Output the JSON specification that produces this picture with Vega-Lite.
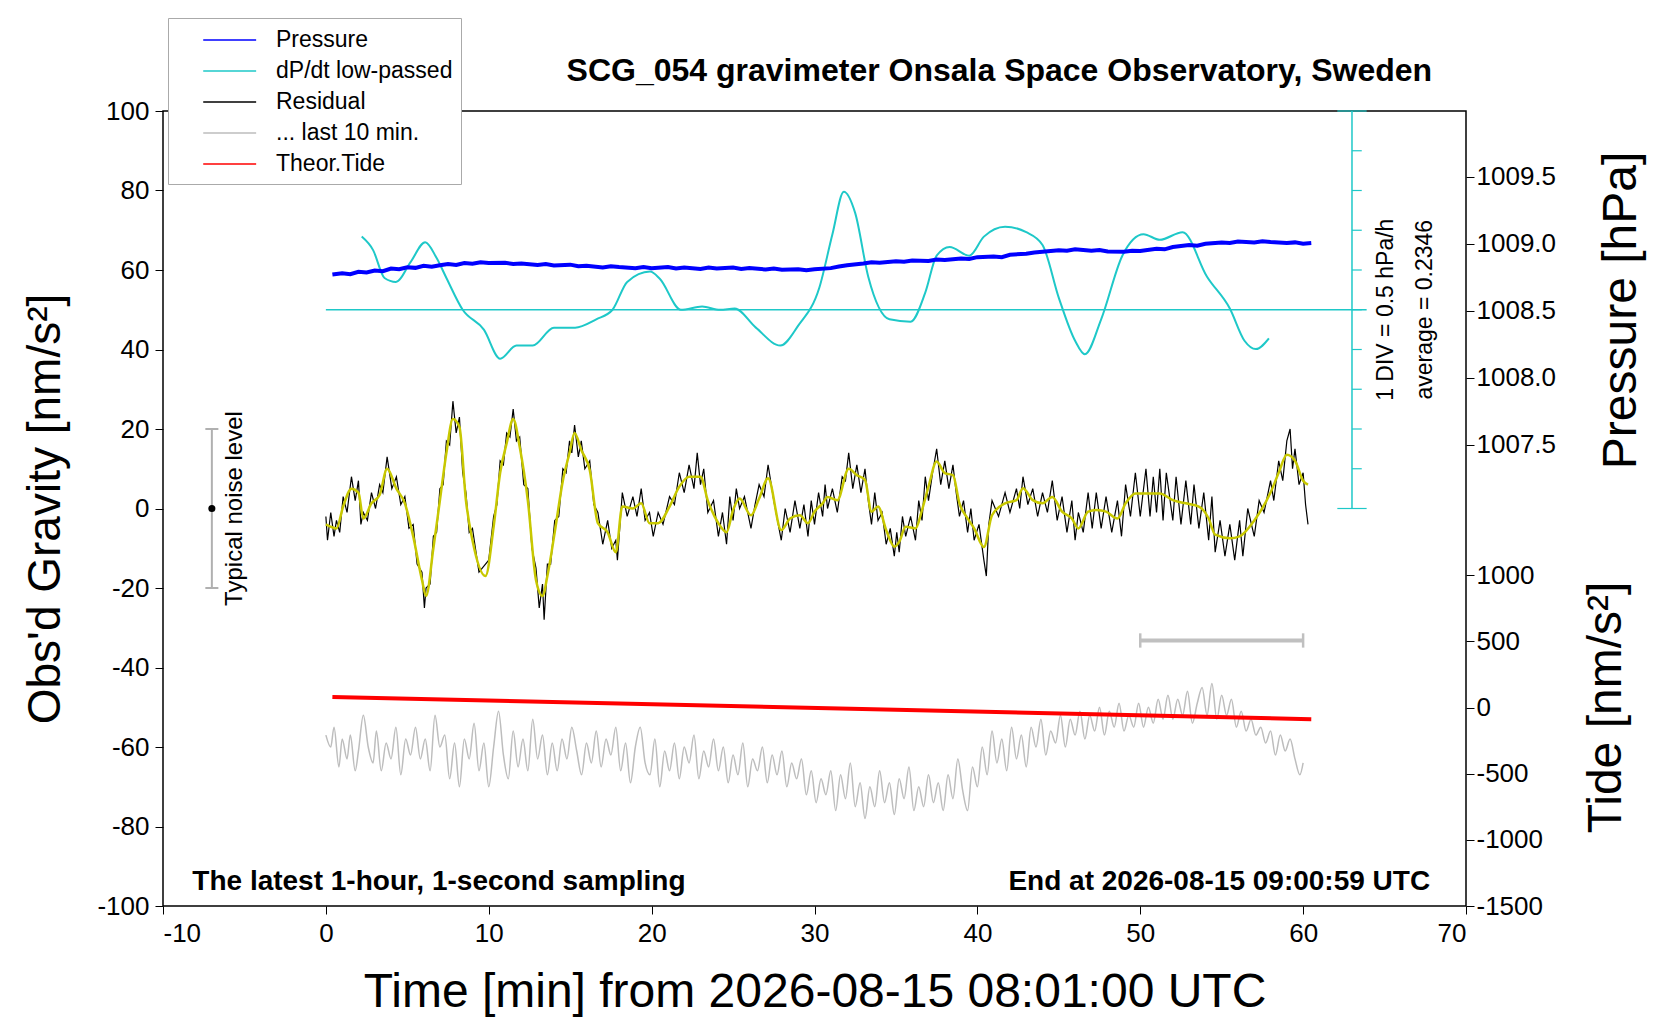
{
  "$schema": "https://vega.github.io/schema/vega-lite/v6.json",
  "width": 1303,
  "height": 795,
  "autosize": "none",
  "padding": {"left": 163, "top": 111, "right": 194, "bottom": 114},
  "datasets": {
    "res": [
      {"t":0,"g":-2},{"t":0.1,"g":-8},{"t":0.3,"g":-1},{"t":0.5,"g":-7},{"t":0.65,"g":-3},{"t":0.85,"g":-6},{"t":1.06,"g":3},{"t":1.3,"g":-1},{"t":1.57,"g":8},{"t":1.8,"g":2},{"t":2,"g":7},{"t":2.15,"g":-4},{"t":2.3,"g":-1},{"t":2.55,"g":-3},{"t":2.8,"g":4},{"t":3.05,"g":0},{"t":3.3,"g":6},{"t":3.5,"g":4},{"t":3.76,"g":13},{"t":4.05,"g":5},{"t":4.33,"g":8},{"t":4.6,"g":1},{"t":4.85,"g":3},{"t":5.1,"g":-5},{"t":5.36,"g":-4},{"t":5.6,"g":-14},{"t":5.9,"g":-16},{"t":6.05,"g":-25},{"t":6.15,"g":-20},{"t":6.4,"g":-19},{"t":6.6,"g":-7},{"t":6.8,"g":-6},{"t":7,"g":5},{"t":7.2,"g":6},{"t":7.4,"g":17},{"t":7.6,"g":16},{"t":7.8,"g":27},{"t":8,"g":19},{"t":8.2,"g":23},{"t":8.4,"g":9},{"t":8.6,"g":4},{"t":8.8,"g":-6},{"t":9,"g":-5},{"t":9.4,"g":-16},{"t":9.8,"g":-14},{"t":10,"g":-13},{"t":10.3,"g":-2},{"t":10.5,"g":1},{"t":10.7,"g":12},{"t":10.9,"g":11},{"t":11.1,"g":19},{"t":11.3,"g":18},{"t":11.5,"g":25},{"t":11.7,"g":17},{"t":11.9,"g":18},{"t":12.15,"g":6},{"t":12.4,"g":5},{"t":12.65,"g":-10},{"t":12.9,"g":-15},{"t":13.1,"g":-25},{"t":13.3,"g":-19},{"t":13.4,"g":-28},{"t":13.6,"g":-14},{"t":13.8,"g":-14},{"t":14.05,"g":-3},{"t":14.3,"g":-2},{"t":14.55,"g":10},{"t":14.75,"g":9},{"t":14.96,"g":17},{"t":15.1,"g":14},{"t":15.27,"g":21},{"t":15.5,"g":13},{"t":15.68,"g":17},{"t":15.9,"g":10},{"t":16.2,"g":12},{"t":16.45,"g":1},{"t":16.7,"g":-1},{"t":17,"g":-9},{"t":17.3,"g":-3},{"t":17.55,"g":-10},{"t":17.8,"g":-8},{"t":17.9,"g":-13},{"t":18.2,"g":4},{"t":18.5,"g":-2},{"t":18.85,"g":3},{"t":19.1,"g":-2},{"t":19.36,"g":5},{"t":19.6,"g":-3},{"t":19.87,"g":-1},{"t":20.1,"g":-7},{"t":20.4,"g":-1},{"t":20.7,"g":-4},{"t":21.1,"g":3},{"t":21.4,"g":1},{"t":21.7,"g":9},{"t":22,"g":4},{"t":22.3,"g":11},{"t":22.6,"g":5},{"t":22.8,"g":14},{"t":23,"g":6},{"t":23.2,"g":10},{"t":23.45,"g":-1},{"t":23.8,"g":2},{"t":24.1,"g":-7},{"t":24.35,"g":-1},{"t":24.6,"g":-9},{"t":24.8,"g":3},{"t":25,"g":-3},{"t":25.2,"g":5},{"t":25.4,"g":0},{"t":25.7,"g":3},{"t":26.1,"g":-5},{"t":26.35,"g":1},{"t":26.6,"g":6},{"t":26.9,"g":3},{"t":27.15,"g":11},{"t":27.5,"g":2},{"t":27.96,"g":-8},{"t":28.2,"g":0},{"t":28.5,"g":-6},{"t":28.8,"g":2},{"t":29.1,"g":-5},{"t":29.35,"g":1},{"t":29.6,"g":-7},{"t":29.8,"g":2},{"t":30,"g":-4},{"t":30.25,"g":4},{"t":30.5,"g":-2},{"t":30.65,"g":6},{"t":30.8,"g":0},{"t":31.1,"g":5},{"t":31.4,"g":-1},{"t":31.7,"g":8},{"t":31.9,"g":7},{"t":32.1,"g":14},{"t":32.35,"g":5},{"t":32.6,"g":11},{"t":32.85,"g":4},{"t":33.1,"g":10},{"t":33.3,"g":2},{"t":33.5,"g":-4},{"t":33.7,"g":4},{"t":33.9,"g":-3},{"t":34.15,"g":-1},{"t":34.4,"g":-9},{"t":34.65,"g":-5},{"t":34.9,"g":-12},{"t":35.05,"g":-6},{"t":35.2,"g":-11},{"t":35.4,"g":-2},{"t":35.6,"g":-7},{"t":35.9,"g":-2},{"t":36.2,"g":-8},{"t":36.4,"g":2},{"t":36.6,"g":-3},{"t":36.8,"g":8},{"t":37,"g":2},{"t":37.25,"g":9},{"t":37.5,"g":15},{"t":37.75,"g":6},{"t":38,"g":12},{"t":38.25,"g":5},{"t":38.5,"g":11},{"t":38.7,"g":4},{"t":38.9,"g":-2},{"t":39.15,"g":2},{"t":39.4,"g":-6},{"t":39.6,"g":0},{"t":39.8,"g":-8},{"t":40.1,"g":-4},{"t":40.4,"g":-13},{"t":40.55,"g":-17},{"t":40.7,"g":-4},{"t":40.9,"g":2},{"t":41.3,"g":-2},{"t":41.7,"g":4},{"t":42,"g":-1},{"t":42.4,"g":5},{"t":42.6,"g":0},{"t":42.8,"g":8},{"t":43.1,"g":1},{"t":43.4,"g":5},{"t":43.7,"g":-2},{"t":44,"g":4},{"t":44.3,"g":-1},{"t":44.6,"g":7},{"t":44.9,"g":-3},{"t":45.2,"g":3},{"t":45.5,"g":-6},{"t":45.8,"g":2},{"t":46,"g":-8},{"t":46.2,"g":-1},{"t":46.5,"g":-6},{"t":46.8,"g":4},{"t":47.05,"g":-5},{"t":47.3,"g":4},{"t":47.6,"g":-5},{"t":47.9,"g":3},{"t":48.25,"g":-6},{"t":48.6,"g":2},{"t":48.85,"g":-7},{"t":49.1,"g":6},{"t":49.4,"g":-2},{"t":49.7,"g":9},{"t":50,"g":-2},{"t":50.35,"g":10},{"t":50.6,"g":-2},{"t":50.8,"g":8},{"t":51,"g":-1},{"t":51.2,"g":10},{"t":51.4,"g":-3},{"t":51.6,"g":9},{"t":52,"g":-3},{"t":52.2,"g":8},{"t":52.5,"g":-4},{"t":52.8,"g":7},{"t":53.1,"g":-4},{"t":53.3,"g":6},{"t":53.6,"g":-5},{"t":53.9,"g":4},{"t":54.2,"g":-8},{"t":54.4,"g":3},{"t":54.6,"g":-11},{"t":54.9,"g":-3},{"t":55.2,"g":-12},{"t":55.5,"g":-4},{"t":55.8,"g":-13},{"t":56.1,"g":-3},{"t":56.3,"g":-12},{"t":56.6,"g":0},{"t":57,"g":-7},{"t":57.3,"g":2},{"t":57.6,"g":-1},{"t":58,"g":7},{"t":58.2,"g":2},{"t":58.5,"g":12},{"t":58.75,"g":7},{"t":59,"g":17},{"t":59.2,"g":20},{"t":59.35,"g":10},{"t":59.5,"g":15},{"t":59.75,"g":6},{"t":60,"g":9},{"t":60.15,"g":1},{"t":60.3,"g":-4}
    ],
    "smo": [
      {"t":0,"g":-4},{"t":0.65,"g":-5},{"t":1.06,"g":0.5},{"t":1.57,"g":5},{"t":2,"g":4},{"t":2.3,"g":-2.5},{"t":2.8,"g":1.3},{"t":3.3,"g":3.4},{"t":3.76,"g":10},{"t":4.33,"g":5},{"t":4.85,"g":1.3},{"t":5.36,"g":-7},{"t":5.9,"g":-18},{"t":6.15,"g":-22},{"t":6.6,"g":-10},{"t":7,"g":2},{"t":7.4,"g":14},{"t":7.8,"g":22.5},{"t":8.2,"g":20.5},{"t":8.6,"g":2},{"t":9,"g":-8},{"t":9.8,"g":-17},{"t":10.3,"g":-4.6},{"t":10.7,"g":9},{"t":11.1,"g":16.4},{"t":11.5,"g":22.5},{"t":11.9,"g":15.5},{"t":12.4,"g":2},{"t":12.9,"g":-18},{"t":13.3,"g":-22},{"t":13.6,"g":-17},{"t":14.05,"g":-6},{"t":14.55,"g":7},{"t":14.96,"g":14},{"t":15.27,"g":19},{"t":15.68,"g":14.7},{"t":16.2,"g":9.7},{"t":16.7,"g":-3.7},{"t":17.3,"g":-6},{"t":17.8,"g":-11},{"t":18.2,"g":0.5},{"t":18.85,"g":0},{"t":19.36,"g":1.3},{"t":19.87,"g":-3.7},{"t":20.4,"g":-3.7},{"t":21.1,"g":0.5},{"t":21.7,"g":5.5},{"t":22.3,"g":8},{"t":23,"g":8},{"t":23.45,"g":2},{"t":24.1,"g":-3.7},{"t":24.6,"g":-6},{"t":25,"g":-0.4},{"t":25.4,"g":2.5},{"t":26.1,"g":-1.7},{"t":26.6,"g":2.5},{"t":27.15,"g":7.6},{"t":27.96,"g":-5.4},{"t":28.5,"g":-2.5},{"t":29.1,"g":-1.7},{"t":29.6,"g":-3.7},{"t":30,"g":-0.8},{"t":30.5,"g":1.3},{"t":30.8,"g":2.9},{"t":31.4,"g":2.1},{"t":32.1,"g":10},{"t":32.6,"g":8.4},{"t":33.1,"g":7.2},{"t":33.5,"g":-0.8},{"t":33.9,"g":0.5},{"t":34.4,"g":-5.4},{"t":34.9,"g":-9.6},{"t":35.2,"g":-8.4},{"t":35.6,"g":-4.6},{"t":36.2,"g":-5},{"t":36.6,"g":-0.4},{"t":37,"g":5.5},{"t":37.5,"g":11.8},{"t":38,"g":8.9},{"t":38.5,"g":8.4},{"t":38.9,"g":1.3},{"t":39.4,"g":-2.5},{"t":39.8,"g":-5},{"t":40.4,"g":-9.7},{"t":40.9,"g":-1.7},{"t":41.7,"g":1.3},{"t":42.4,"g":2.1},{"t":42.8,"g":5.1},{"t":43.4,"g":2.1},{"t":44,"g":1.3},{"t":44.6,"g":2.9},{"t":45.2,"g":-0.8},{"t":45.8,"g":-2.5},{"t":46.2,"g":-5},{"t":46.8,"g":-0.8},{"t":47.3,"g":-0.4},{"t":47.9,"g":-0.8},{"t":48.6,"g":-2.5},{"t":49.1,"g":1.3},{"t":49.7,"g":3.8},{"t":50.35,"g":3.8},{"t":51.2,"g":3.8},{"t":52,"g":2.1},{"t":52.8,"g":1.3},{"t":53.6,"g":0.5},{"t":54.2,"g":-2.5},{"t":54.6,"g":-6.6},{"t":55.5,"g":-7.5},{"t":56.1,"g":-7},{"t":57,"g":-3},{"t":58,"g":4},{"t":58.5,"g":9},{"t":59,"g":13.5},{"t":59.5,"g":12},{"t":60,"g":7},{"t":60.3,"g":6}
    ],
    "gry": [
      {"t":0,"g":-57},{"t":0.3,"g":-60},{"t":0.5,"g":-55},{"t":0.8,"g":-65},{"t":1,"g":-58},{"t":1.3,"g":-63},{"t":1.5,"g":-57},{"t":1.8,"g":-66},{"t":2,"g":-61},{"t":2.3,"g":-52},{"t":2.6,"g":-60},{"t":2.9,"g":-64},{"t":3.1,"g":-56},{"t":3.4,"g":-66},{"t":3.7,"g":-59},{"t":4,"g":-63},{"t":4.3,"g":-55},{"t":4.6,"g":-67},{"t":4.9,"g":-58},{"t":5.2,"g":-62},{"t":5.5,"g":-55},{"t":5.8,"g":-63},{"t":6.1,"g":-58},{"t":6.4,"g":-66},{"t":6.7,"g":-52},{"t":7,"g":-60},{"t":7.3,"g":-57},{"t":7.6,"g":-68},{"t":7.9,"g":-59},{"t":8.2,"g":-70},{"t":8.5,"g":-58},{"t":8.8,"g":-63},{"t":9.1,"g":-54},{"t":9.4,"g":-66},{"t":9.7,"g":-59},{"t":10,"g":-70},{"t":10.3,"g":-60},{"t":10.6,"g":-51},{"t":10.9,"g":-62},{"t":11.2,"g":-68},{"t":11.5,"g":-56},{"t":11.8,"g":-65},{"t":12.1,"g":-58},{"t":12.4,"g":-66},{"t":12.7,"g":-53},{"t":13,"g":-63},{"t":13.3,"g":-57},{"t":13.6,"g":-67},{"t":13.9,"g":-59},{"t":14.2,"g":-66},{"t":14.5,"g":-58},{"t":14.8,"g":-63},{"t":15.1,"g":-55},{"t":15.4,"g":-61},{"t":15.7,"g":-67},{"t":16,"g":-59},{"t":16.3,"g":-64},{"t":16.6,"g":-56},{"t":16.9,"g":-65},{"t":17.2,"g":-58},{"t":17.5,"g":-62},{"t":17.8,"g":-55},{"t":18.1,"g":-66},{"t":18.4,"g":-59},{"t":18.7,"g":-69},{"t":19,"g":-60},{"t":19.3,"g":-55},{"t":19.6,"g":-64},{"t":19.9,"g":-67},{"t":20.2,"g":-58},{"t":20.5,"g":-70},{"t":20.8,"g":-61},{"t":21.1,"g":-66},{"t":21.4,"g":-59},{"t":21.7,"g":-68},{"t":22,"g":-60},{"t":22.3,"g":-64},{"t":22.6,"g":-57},{"t":22.9,"g":-68},{"t":23.2,"g":-61},{"t":23.5,"g":-65},{"t":23.8,"g":-58},{"t":24.1,"g":-66},{"t":24.4,"g":-60},{"t":24.7,"g":-69},{"t":25,"g":-62},{"t":25.3,"g":-67},{"t":25.6,"g":-59},{"t":25.9,"g":-70},{"t":26.2,"g":-63},{"t":26.5,"g":-66},{"t":26.8,"g":-60},{"t":27.1,"g":-69},{"t":27.4,"g":-62},{"t":27.7,"g":-67},{"t":28,"g":-61},{"t":28.3,"g":-70},{"t":28.6,"g":-64},{"t":28.9,"g":-68},{"t":29.2,"g":-63},{"t":29.5,"g":-72},{"t":29.8,"g":-66},{"t":30.1,"g":-74},{"t":30.4,"g":-68},{"t":30.7,"g":-72},{"t":31,"g":-66},{"t":31.3,"g":-76},{"t":31.6,"g":-67},{"t":31.9,"g":-73},{"t":32.2,"g":-64},{"t":32.5,"g":-75},{"t":32.8,"g":-69},{"t":33.1,"g":-78},{"t":33.4,"g":-70},{"t":33.7,"g":-75},{"t":34,"g":-66},{"t":34.3,"g":-74},{"t":34.6,"g":-69},{"t":34.9,"g":-77},{"t":35.2,"g":-68},{"t":35.5,"g":-73},{"t":35.8,"g":-65},{"t":36.1,"g":-76},{"t":36.4,"g":-70},{"t":36.7,"g":-75},{"t":37,"g":-67},{"t":37.3,"g":-74},{"t":37.6,"g":-69},{"t":37.9,"g":-76},{"t":38.2,"g":-67},{"t":38.5,"g":-73},{"t":38.8,"g":-63},{"t":39.1,"g":-71},{"t":39.4,"g":-76},{"t":39.7,"g":-65},{"t":40,"g":-70},{"t":40.3,"g":-60},{"t":40.6,"g":-67},{"t":40.9,"g":-56},{"t":41.2,"g":-64},{"t":41.5,"g":-58},{"t":41.8,"g":-66},{"t":42.1,"g":-55},{"t":42.4,"g":-63},{"t":42.7,"g":-57},{"t":43,"g":-65},{"t":43.3,"g":-55},{"t":43.6,"g":-60},{"t":43.9,"g":-53},{"t":44.2,"g":-62},{"t":44.5,"g":-56},{"t":44.8,"g":-59},{"t":45.1,"g":-52},{"t":45.4,"g":-60},{"t":45.7,"g":-53},{"t":46,"g":-57},{"t":46.3,"g":-51},{"t":46.6,"g":-58},{"t":46.9,"g":-52},{"t":47.2,"g":-56},{"t":47.5,"g":-50},{"t":47.8,"g":-57},{"t":48.1,"g":-51},{"t":48.4,"g":-55},{"t":48.7,"g":-49},{"t":49,"g":-56},{"t":49.3,"g":-52},{"t":49.6,"g":-55},{"t":49.9,"g":-49},{"t":50.2,"g":-55},{"t":50.5,"g":-50},{"t":50.8,"g":-54},{"t":51.1,"g":-48},{"t":51.4,"g":-53},{"t":51.7,"g":-47},{"t":52,"g":-53},{"t":52.3,"g":-48},{"t":52.6,"g":-52},{"t":52.9,"g":-46},{"t":53.2,"g":-54},{"t":53.5,"g":-49},{"t":53.8,"g":-45},{"t":54.1,"g":-52},{"t":54.4,"g":-44},{"t":54.7,"g":-53},{"t":55,"g":-47},{"t":55.3,"g":-52},{"t":55.6,"g":-48},{"t":55.9,"g":-55},{"t":56.2,"g":-51},{"t":56.5,"g":-56},{"t":56.8,"g":-53},{"t":57.1,"g":-57},{"t":57.4,"g":-55},{"t":57.7,"g":-59},{"t":58,"g":-56},{"t":58.3,"g":-62},{"t":58.6,"g":-57},{"t":58.9,"g":-61},{"t":59.2,"g":-58},{"t":59.5,"g":-63},{"t":59.8,"g":-67},{"t":60,"g":-64}
    ],
    "prs": [
      {"t":0.4,"p":1008.77},{"t":1,"p":1008.78},{"t":1.5,"p":1008.772},{"t":2,"p":1008.79},{"t":2.5,"p":1008.786},{"t":3,"p":1008.8},{"t":3.5,"p":1008.795},{"t":4,"p":1008.815},{"t":4.5,"p":1008.81},{"t":5,"p":1008.825},{"t":5.5,"p":1008.82},{"t":6,"p":1008.835},{"t":6.5,"p":1008.828},{"t":7,"p":1008.84},{"t":7.5,"p":1008.848},{"t":8,"p":1008.842},{"t":8.5,"p":1008.856},{"t":9,"p":1008.85},{"t":9.5,"p":1008.862},{"t":10,"p":1008.856},{"t":11,"p":1008.858},{"t":11.5,"p":1008.849},{"t":12,"p":1008.853},{"t":13,"p":1008.842},{"t":13.5,"p":1008.848},{"t":14,"p":1008.838},{"t":15,"p":1008.844},{"t":15.5,"p":1008.832},{"t":16,"p":1008.836},{"t":17,"p":1008.822},{"t":17.5,"p":1008.832},{"t":18,"p":1008.826},{"t":19,"p":1008.818},{"t":19.5,"p":1008.826},{"t":20,"p":1008.818},{"t":21,"p":1008.826},{"t":21.5,"p":1008.815},{"t":22,"p":1008.822},{"t":23,"p":1008.812},{"t":23.5,"p":1008.822},{"t":24,"p":1008.816},{"t":25,"p":1008.822},{"t":25.5,"p":1008.812},{"t":26,"p":1008.818},{"t":27,"p":1008.808},{"t":27.5,"p":1008.815},{"t":28,"p":1008.806},{"t":29,"p":1008.81},{"t":29.5,"p":1008.803},{"t":30,"p":1008.81},{"t":31,"p":1008.818},{"t":31.5,"p":1008.83},{"t":32,"p":1008.84},{"t":33,"p":1008.852},{"t":33.5,"p":1008.862},{"t":34,"p":1008.858},{"t":35,"p":1008.87},{"t":35.5,"p":1008.865},{"t":36,"p":1008.874},{"t":37,"p":1008.872},{"t":37.5,"p":1008.882},{"t":38,"p":1008.878},{"t":39,"p":1008.89},{"t":39.5,"p":1008.886},{"t":40,"p":1008.9},{"t":41,"p":1008.905},{"t":41.5,"p":1008.9},{"t":42,"p":1008.918},{"t":43,"p":1008.925},{"t":43.5,"p":1008.935},{"t":44,"p":1008.94},{"t":45,"p":1008.952},{"t":45.5,"p":1008.948},{"t":46,"p":1008.958},{"t":47,"p":1008.948},{"t":47.5,"p":1008.953},{"t":48,"p":1008.942},{"t":49,"p":1008.94},{"t":49.5,"p":1008.948},{"t":50,"p":1008.945},{"t":51,"p":1008.962},{"t":51.5,"p":1008.958},{"t":52,"p":1008.975},{"t":53,"p":1008.99},{"t":53.5,"p":1008.985},{"t":54,"p":1009.0},{"t":55,"p":1009.01},{"t":55.5,"p":1009.005},{"t":56,"p":1009.016},{"t":57,"p":1009.01},{"t":57.5,"p":1009.018},{"t":58,"p":1009.012},{"t":59,"p":1009.006},{"t":59.5,"p":1009.01},{"t":60,"p":1009.0},{"t":60.5,"p":1009.005}
    ],
    "cyn": [
      {"t":2.2,"g":68.4},{"t":2.9,"g":65},{"t":3.6,"g":58},{"t":4.3,"g":57},{"t":5.2,"g":62},{"t":6.1,"g":67},{"t":6.8,"g":63},{"t":7.4,"g":58},{"t":8.4,"g":50},{"t":9.7,"g":45},{"t":10.7,"g":37.7},{"t":11.7,"g":41},{"t":12.7,"g":41},{"t":14,"g":45.5},{"t":15.3,"g":45.5},{"t":16.6,"g":47.6},{"t":17.6,"g":50},{"t":18.5,"g":57},{"t":19.9,"g":59.6},{"t":20.5,"g":57.8},{"t":21.8,"g":50},{"t":23.1,"g":50.8},{"t":24.2,"g":50},{"t":25.1,"g":50.3},{"t":26.4,"g":45.5},{"t":27.9,"g":41},{"t":29,"g":46},{"t":30.3,"g":55.6},{"t":31.1,"g":69},{"t":31.8,"g":79.7},{"t":32.5,"g":74.3},{"t":33.3,"g":58.3},{"t":34.6,"g":47.6},{"t":35.9,"g":47},{"t":36.8,"g":54.3},{"t":37.5,"g":63.6},{"t":38.3,"g":65.8},{"t":39.5,"g":63.6},{"t":40.4,"g":68.4},{"t":41.7,"g":70.9},{"t":43,"g":69.5},{"t":44,"g":66.3},{"t":45,"g":53},{"t":46,"g":42.2},{"t":46.6,"g":38.8},{"t":47.6,"g":47.6},{"t":48.9,"g":63.6},{"t":50.2,"g":69},{"t":51.2,"g":67.6},{"t":52.6,"g":69.5},{"t":54.1,"g":58.3},{"t":55.5,"g":50.3},{"t":56.4,"g":42.2},{"t":57.1,"g":40.1},{"t":57.9,"g":42.8}
    ],
    "tide": [{"t":0.4,"g":-47.4},{"t":60.5,"g":-53}],
    "divticks": [
      {"g":0,"t1":62.1,"t2":63.9},{"g":10,"t1":63,"t2":63.6},{"g":20,"t1":63,"t2":63.6},{"g":30,"t1":63,"t2":63.6},{"g":40,"t1":63,"t2":63.6},{"g":50,"t1":63,"t2":63.6},{"g":60,"t1":63,"t2":63.6},{"g":70,"t1":63,"t2":63.6},{"g":80,"t1":63,"t2":63.6},{"g":90,"t1":63,"t2":63.6},{"g":100,"t1":62.1,"t2":63.9}
    ]
  },
  "config": {
    "font": "Liberation Sans",
    "view": {"stroke": "black", "strokeWidth": 1.5},
    "axis": {"grid": false, "domain": false, "tickColor": "black", "tickSize": 8, "labelColor": "black", "labelFontSize": 26, "titleColor": "black", "titleFontWeight": "normal", "labelExpr": "replace(datum.label, '−', '-')"},
    "legend": {"orient": "none", "legendX": 5, "legendY": -93, "title": null, "strokeColor": "#aaaaaa", "fillColor": "white", "padding": 8, "labelFontSize": 23, "labelColor": "black", "labelLimit": 400, "symbolType": "M1,0L5,0", "symbolSize": 700, "symbolStrokeWidth": 1.5, "rowPadding": 5, "labelOffset": 72, "cornerRadius": 0, "offset": 0}
  },
  "resolve": {"scale": {"y": "independent"}},
  "layer": [
    {
      "encoding": {
        "x": {"field": "t", "type": "quantitative", "scale": {"domain": [-10, 70], "nice": false}, "axis": {"values": [-10,0,10,20,30,40,50,60,70], "title": "Time [min] from 2026-08-15 08:01:00 UTC", "titleFontSize": 48, "labelPadding": 6, "titleY": 86, "titleBaseline": "middle"}},
        "y": {"field": "g", "type": "quantitative", "scale": {"domain": [-100, 100], "nice": false}, "axis": {"values": [-100,-80,-60,-40,-20,0,20,40,60,80,100], "title": "Obs'd Gravity [nm/s²]", "titleFontSize": 46, "titleX": -118, "titleBaseline": "middle", "labelPadding": 6}}
      },
      "layer": [
        {"data": {"name": "res"}, "mark": {"type": "line", "strokeWidth": 1.2}, "encoding": {"color": {"datum": "Residual", "scale": {"domain": ["Pressure", "dP/dt low-passed", "Residual", "... last 10 min.", "Theor.Tide"], "range": ["#0000ff", "#1ec8c8", "#000000", "#bdbdbd", "#ff0000"]}}}},
        {"data": {"name": "smo"}, "mark": {"type": "line", "strokeWidth": 2.5, "color": "#c8c800", "interpolate": "monotone"}},
        {"data": {"name": "cyn"}, "mark": {"type": "line", "strokeWidth": 2, "interpolate": "monotone"}, "encoding": {"color": {"datum": "dP/dt low-passed"}}},
        {"data": {"name": "gry"}, "mark": {"type": "line", "strokeWidth": 1.5, "interpolate": "monotone"}, "encoding": {"color": {"datum": "... last 10 min."}}},
        {"data": {"name": "tide"}, "mark": {"type": "line", "strokeWidth": 4}, "encoding": {"color": {"datum": "Theor.Tide"}}},
        {"data": {"values": [{"t": 0, "t2": 63.9, "g": 50}]}, "mark": {"type": "rule", "color": "#1ec8c8", "strokeWidth": 1.5}, "encoding": {"x2": {"field": "t2"}}},
        {"data": {"values": [{"t": 63, "g": 0, "g2": 100}]}, "mark": {"type": "rule", "color": "#1ec8c8", "strokeWidth": 1.5}, "encoding": {"y2": {"field": "g2"}}},
        {"data": {"name": "divticks"}, "mark": {"type": "rule", "color": "#1ec8c8", "strokeWidth": 1.2}, "encoding": {"x": {"field": "t1", "type": "quantitative"}, "x2": {"field": "t2"}}},
        {"data": {"values": [{"t": -7, "g": -20, "g2": 20}]}, "mark": {"type": "rule", "color": "#b0b0b0", "strokeWidth": 2}, "encoding": {"y2": {"field": "g2"}}},
        {"data": {"values": [{"t": -7.4, "t2": -6.6, "g": -20}, {"t": -7.4, "t2": -6.6, "g": 20}]}, "mark": {"type": "rule", "color": "#b0b0b0", "strokeWidth": 2}, "encoding": {"x2": {"field": "t2"}}},
        {"data": {"values": [{"t": -7, "g": 0}]}, "mark": {"type": "circle", "color": "black", "opacity": 1, "size": 50}},
        {"data": {"values": [{"t": 50, "t2": 60, "g": -33.2}]}, "mark": {"type": "rule", "color": "#c0c0c0", "strokeWidth": 4}, "encoding": {"x2": {"field": "t2"}}},
        {"data": {"values": [{"t": 50, "g": -35, "g2": -31.4}, {"t": 60, "g": -35, "g2": -31.4}]}, "mark": {"type": "rule", "color": "#c0c0c0", "strokeWidth": 2.5}, "encoding": {"y2": {"field": "g2"}}},
        {"data": {"values": [{"t": -5.6, "g": 0, "label": "Typical noise level"}]}, "mark": {"type": "text", "angle": 270, "fontSize": 24, "align": "center", "baseline": "middle", "color": "black"}, "encoding": {"text": {"field": "label"}}},
        {"data": {"values": [{"t": 65.1, "g": 50, "label": "1 DIV = 0.5 hPa/h"}, {"t": 67.5, "g": 50, "label": "average = 0.2346"}]}, "mark": {"type": "text", "angle": 270, "fontSize": 23, "align": "center", "baseline": "middle", "color": "black"}, "encoding": {"text": {"field": "label"}}},
        {"data": {"values": [{"t": -8.2, "g": -94, "label": "The latest 1-hour, 1-second sampling"}]}, "mark": {"type": "text", "fontSize": 28, "fontWeight": "bold", "align": "left", "baseline": "middle", "color": "black"}, "encoding": {"text": {"field": "label"}}},
        {"data": {"values": [{"t": 67.8, "g": -94, "label": "End at 2026-08-15 09:00:59 UTC"}]}, "mark": {"type": "text", "fontSize": 28, "fontWeight": "bold", "align": "right", "baseline": "middle", "color": "black"}, "encoding": {"text": {"field": "label"}}},
        {"data": {"values": [{"t": 41.35, "g": 110, "label": "SCG_054 gravimeter Onsala Space Observatory, Sweden"}]}, "mark": {"type": "text", "fontSize": 32, "fontWeight": "bold", "align": "center", "baseline": "middle", "color": "black"}, "encoding": {"text": {"field": "label"}}}
      ]
    },
    {
      "data": {"name": "prs"},
      "mark": {"type": "line", "strokeWidth": 4},
      "encoding": {
        "x": {"field": "t", "type": "quantitative"},
        "y": {"field": "p", "type": "quantitative", "scale": {"domain": [1004.06, 1009.99], "nice": false, "zero": false}, "axis": {"orient": "right", "values": [1007.5, 1008, 1008.5, 1009, 1009.5], "format": ".1f", "title": "Pressure [hPa]", "titleFontSize": 48, "titleAngle": 270, "titleX": 155, "titleY": 199, "titleAlign": "center", "titleBaseline": "middle"}},
        "color": {"datum": "Pressure"}
      }
    },
    {
      "data": {"values": [{"t": 0, "tide": 0}]},
      "mark": {"type": "point", "opacity": 0},
      "encoding": {
        "x": {"field": "t", "type": "quantitative"},
        "y": {"field": "tide", "type": "quantitative", "scale": {"domain": [-1500, 4509], "nice": false, "zero": false}, "axis": {"orient": "right", "values": [-1500, -1000, -500, 0, 500, 1000], "format": "d", "title": "Tide [nm/s²]", "titleFontSize": 48, "titleAngle": 270, "titleX": 140, "titleY": 596, "titleAlign": "center", "titleBaseline": "middle"}}
      }
    }
  ]
}
